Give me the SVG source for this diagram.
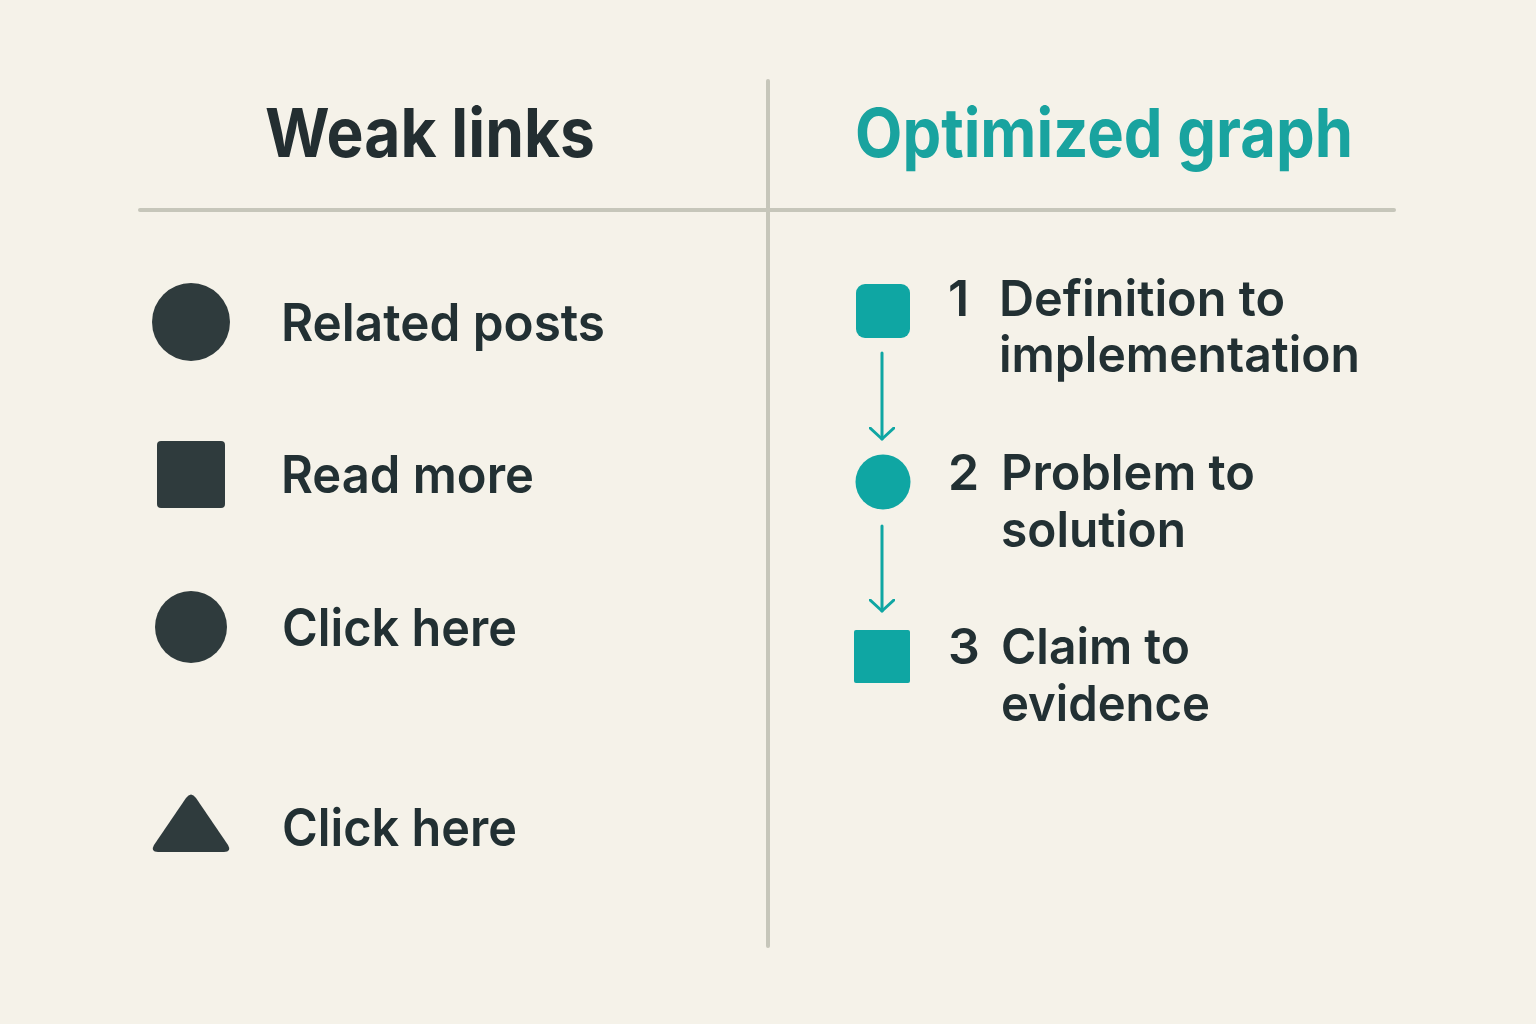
<svg xmlns="http://www.w3.org/2000/svg" width="1536" height="1024" viewBox="0 0 1536 1024">
<style>
.bg{fill:#f5f2e9}
.rule{stroke:#c6c6ba;stroke-width:4;stroke-linecap:round;fill:none}
.dark{fill:#2f3b3d}
.teal{fill:#0fa6a3}
.lbl{font-family:Inter,"Liberation Sans",sans-serif;font-weight:600;fill:#223033}
.h{font-family:Inter,"Liberation Sans",sans-serif;font-weight:700;font-size:68px}
.conn{stroke:#0fa6a3;stroke-width:3;fill:none;stroke-linecap:round;stroke-linejoin:round}
</style>
<defs>
<marker id="chev" viewBox="0 0 14 26" refX="12" refY="13" markerWidth="14" markerHeight="26" markerUnits="userSpaceOnUse" orient="auto">
<path d="M1 1 L12 13 L1 25" fill="none" stroke="#0fa6a3" stroke-width="3" stroke-linecap="round" stroke-linejoin="round"/>
</marker>
</defs>
<rect class="bg" x="0" y="0" width="1536" height="1024"/>
<g id="dividers">
<line class="rule" x1="140" y1="210" x2="1394" y2="210"/>
<line class="rule" x1="768" y1="81" x2="768" y2="946"/>
</g>
<g id="headings">
<text class="h" x="265" y="157" fill="#232e31" textLength="330" lengthAdjust="spacingAndGlyphs">Weak links</text>
<text class="h" x="855" y="157" fill="#19a39f" font-weight="600" textLength="498" lengthAdjust="spacingAndGlyphs">Optimized graph</text>
</g>
<g id="weak-related">
<ellipse class="dark" cx="191" cy="322" rx="39" ry="39"/>
<text class="lbl" x="281" y="341" font-size="52" textLength="324" lengthAdjust="spacingAndGlyphs">Related posts</text>
</g>
<g id="weak-readmore">
<rect class="dark" x="157" y="441" width="68" height="67" rx="4"/>
<text class="lbl" x="281" y="493" font-size="52" textLength="253" lengthAdjust="spacingAndGlyphs">Read more</text>
</g>
<g id="weak-click1">
<ellipse class="dark" cx="191" cy="627" rx="36" ry="36"/>
<text class="lbl" x="282" y="646" font-size="52" textLength="235" lengthAdjust="spacingAndGlyphs">Click here</text>
</g>
<g id="weak-click2">
<path class="dark" d="M186 798 Q191 791 196 798 L228 845 Q232 852 224 852 L158 852 Q150 852 154 845 Z"/>
<text class="lbl" x="282" y="846" font-size="52" textLength="235" lengthAdjust="spacingAndGlyphs">Click here</text>
</g>
<g id="connectors">
<line class="conn" x1="882" y1="353" x2="882" y2="439" marker-end="url(#chev)"/>
<line class="conn" x1="882" y1="526" x2="882" y2="611" marker-end="url(#chev)"/>
</g>
<g id="opt-1">
<rect class="teal" x="856" y="284" width="54" height="54" rx="9"/>
<text class="lbl" x="948" y="316" font-size="50">1</text>
<text class="lbl" x="999" y="316" font-size="50" textLength="286" lengthAdjust="spacingAndGlyphs">Definition to</text>
<text class="lbl" x="999" y="372" font-size="50" textLength="361" lengthAdjust="spacingAndGlyphs">implementation</text>
</g>
<g id="opt-2">
<circle class="teal" cx="883" cy="482" r="27.5"/>
<text class="lbl" x="948" y="490" font-size="50">2</text>
<text class="lbl" x="1001" y="490" font-size="50" textLength="254" lengthAdjust="spacingAndGlyphs">Problem to</text>
<text class="lbl" x="1001" y="547" font-size="50" textLength="185" lengthAdjust="spacingAndGlyphs">solution</text>
</g>
<g id="opt-3">
<rect class="teal" x="854" y="630" width="56" height="53" rx="2"/>
<text class="lbl" x="948" y="664" font-size="50">3</text>
<text class="lbl" x="1001" y="664" font-size="50" textLength="189" lengthAdjust="spacingAndGlyphs">Claim to</text>
<text class="lbl" x="1001" y="721" font-size="50" textLength="209" lengthAdjust="spacingAndGlyphs">evidence</text>
</g>
</svg>
